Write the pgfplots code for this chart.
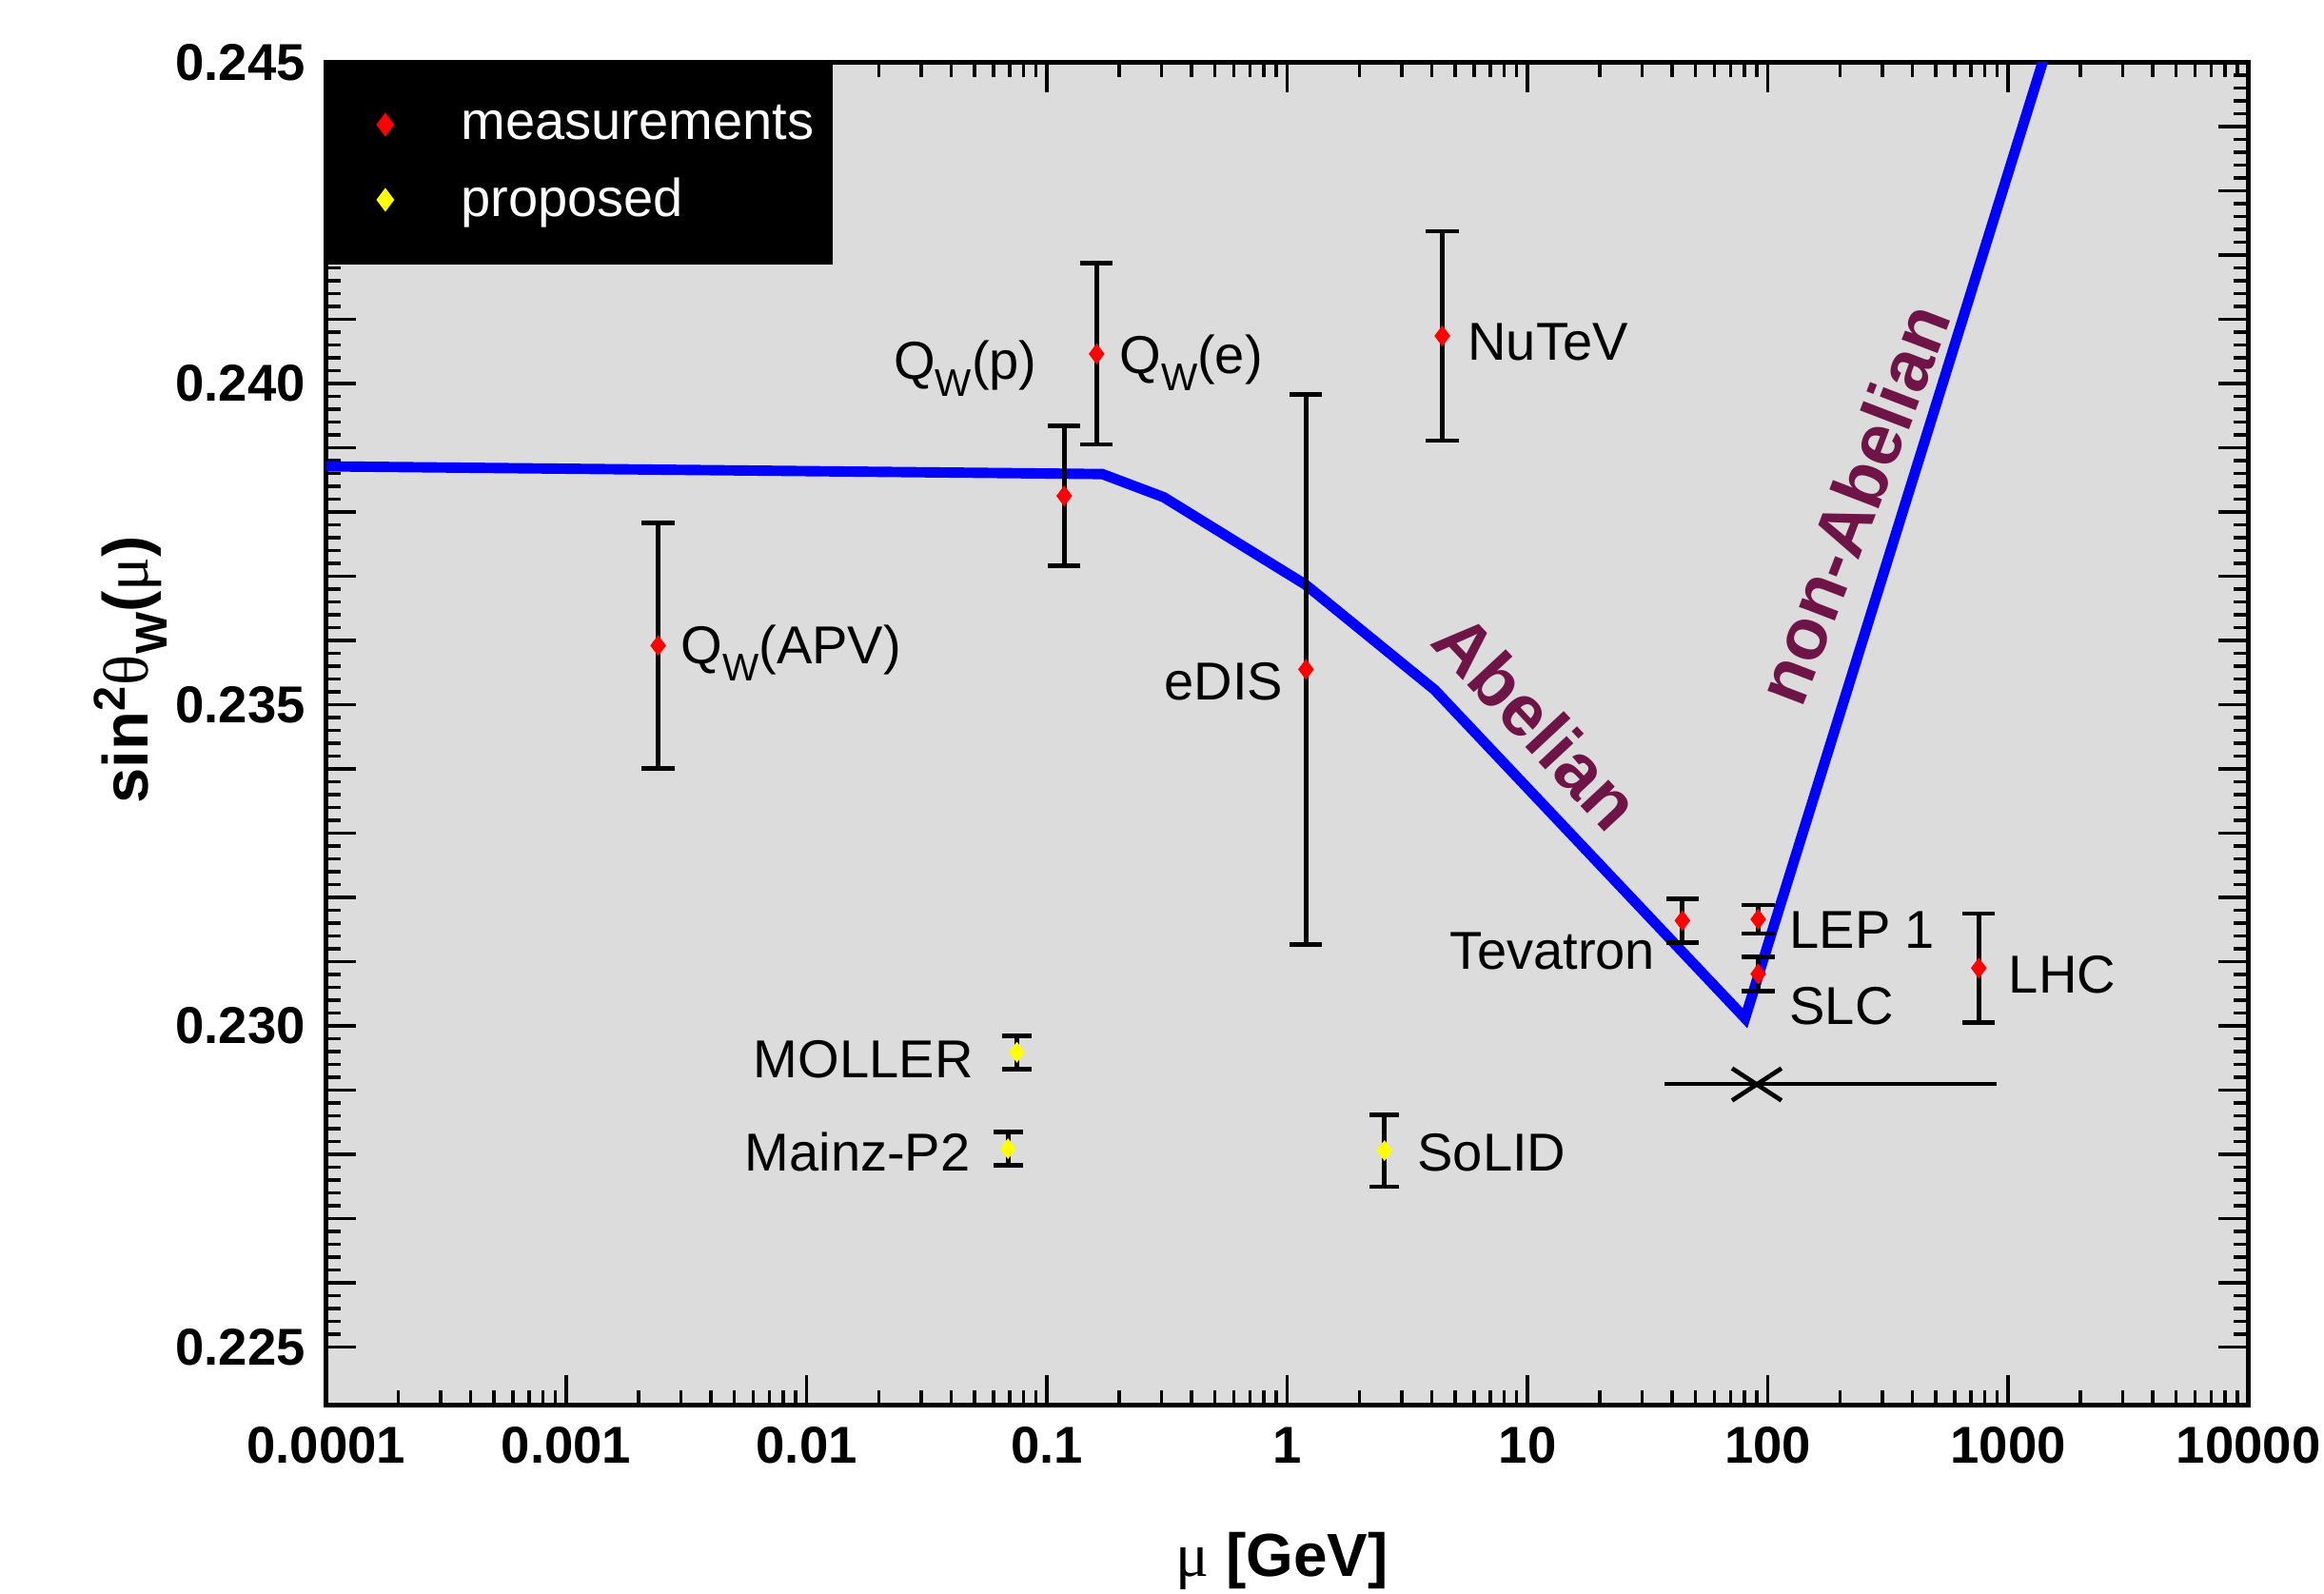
\documentclass[border=0pt]{standalone}
\usepackage{fontspec}
\setmainfont{Liberation Sans}
\newfontfamily\greekfont{Liberation Serif}
\usepackage{pgfplots}
\usepackage{pgfplotstable}
\pgfplotsset{compat=1.18}
\definecolor{bggray}{RGB}{220,220,220}
\definecolor{labpurple}{RGB}{110,20,70}
\definecolor{myblue}{RGB}{0,0,255}
\definecolor{myyellow}{RGB}{255,255,0}
\newcommand{\lab}{\fontsize{18}{20}\selectfont}
\newcommand{\W}{\raisebox{-0.32em}{\fontsize{13}{13}\selectfont W}}

\pgfplotstableread{
x y e
0.00241 0.23592 0.00191
0.118 0.23825 0.00109
0.161 0.24046 0.00141
1.197 0.23555 0.00428
4.42 0.24074 0.00163
44.1 0.23164 0.00034
91.2 0.23166 0.00022
91.2 0.23081 0.00027
755 0.23090 0.00085
}\meas

\pgfplotstableread{
x y e
0.075 0.22959 0.00026
0.0689 0.22809 0.00026
2.54 0.22806 0.00056
}\prop

\pgfplotstableread{
x y
0.0001 0.23871
0.17 0.23859
0.306 0.23823
1.19 0.23687
4.11 0.23523
80.4 0.23012
1532 0.2455
}\curve

\begin{document}
\begin{tikzpicture}
\useasboundingbox (-110pt,-63.5pt) rectangle (674pt,474pt);
\begin{axis}[
  at={(0,0)}, anchor=south west,
  scale only axis, width=648.5pt, height=453pt,
  xmode=log, xmin=1e-4, xmax=1e4,
  ymin=0.2241, ymax=0.245,
  axis background/.style={fill=bggray},
  axis line style={line width=1.6pt, black},
  tick align=inside,
  major tick length=10pt, minor tick length=5pt,
  every tick/.style={black, line width=1.1pt},
  xtick={1e-4,1e-3,1e-2,1e-1,1,10,100,1000,10000},
  xticklabels={0.0001,0.001,0.01,0.1,1,10,100,1000,10000},
  minor xtick={2e-4,3e-4,4e-4,5e-4,6e-4,7e-4,8e-4,9e-4,
    2e-3,3e-3,4e-3,5e-3,6e-3,7e-3,8e-3,9e-3,
    2e-2,3e-2,4e-2,5e-2,6e-2,7e-2,8e-2,9e-2,
    0.2,0.3,0.4,0.5,0.6,0.7,0.8,0.9,
    2,3,4,5,6,7,8,9,
    20,30,40,50,60,70,80,90,
    200,300,400,500,600,700,800,900,
    2000,3000,4000,5000,6000,7000,8000,9000},
  ytick={0.225,0.226,0.227,0.228,0.229,0.230,0.231,0.232,0.233,0.234,0.235,0.236,0.237,0.238,0.239,0.240,0.241,0.242,0.243,0.244,0.245},
  yticklabels={0.225,,,,,0.230,,,,,0.235,,,,,0.240,,,,,0.245},
  minor y tick num=4,
  xticklabel style={font=\fontsize{17.5}{20}\bfseries\selectfont, yshift=-4pt},
  yticklabel style={font=\fontsize{17.5}{20}\bfseries\selectfont, xshift=-3.5pt},
  xlabel={{\greekfont\mdseries\fontsize{21}{24}\selectfont μ} [GeV]},
  every axis x label/.style={at={(rel axis cs:0.4973,-0.1159)}, anchor=center, font=\fontsize{20.5}{24}\bfseries\selectfont},
  ylabel={sin\textsuperscript{2}{\greekfont\mdseries θ}\raisebox{-0.3em}{\fontsize{15}{15}\selectfont W}({\greekfont\mdseries μ})},
  every axis y label/.style={at={(rel axis cs:-0.1018,0.5475)}, rotate=90, anchor=center, font=\fontsize{21.5}{24}\bfseries\selectfont},
  legend style={at={(rel axis cs:0,1)}, anchor=north west, fill=black, draw=black, text=white, font=\lab,
    inner xsep=4pt, inner ysep=12pt, row sep=7.5pt, line width=1pt},
  legend image code/.code={\path (-15pt,0pt) (23pt,0pt); \draw[#1] plot coordinates {(0pt,0pt)};},
  legend cell align=left,
  legend columns=1,
]
\addlegendimage{only marks, mark=diamond*, mark size=3.2pt, color=red}
\addlegendentry{measurements}
\addlegendimage{only marks, mark=diamond*, mark size=3.2pt, color=myyellow}
\addlegendentry{proposed}

% theory curve
\addplot[myblue, line width=3.5pt, forget plot] table[x=x,y=y] {\curve};

% Z-pole arrow line with X
\addplot[black, line width=1.5pt, forget plot] coordinates {(37.2,0.2291) (897,0.2291)};
\addplot[black, line width=1.5pt, forget plot] coordinates {(71,0.22934) (114,0.22884)};
\addplot[black, line width=1.5pt, forget plot] coordinates {(71,0.22884) (114,0.22934)};

% measurements
\addplot[only marks, mark=diamond*, mark size=3.2pt, red, forget plot,
  error bars/.cd, y dir=both, y explicit,
  error bar style={black, line width=1.5pt},
  error mark options={black, rotate=90, mark size=5.5pt, line width=1.5pt}]
  table[x=x, y=y, y error=e] {\meas};

% proposed
\addplot[only marks, mark=diamond*, mark size=3.2pt, myyellow, forget plot,
  error bars/.cd, y dir=both, y explicit,
  error bar style={black, line width=1.5pt},
  error mark options={black, rotate=90, mark size=5pt, line width=1.5pt}]
  table[x=x, y=y, y error=e] {\prop};

% point labels
\begin{scope}[every node/.style={inner sep=0pt, font=\lab}]
\node[anchor=base west] at (rel axis cs:0.1843,0.5519) {Q\W(APV)};
\node[anchor=base east] at (rel axis cs:0.3701,0.7638) {Q\W(p)};
\node[anchor=base west] at (rel axis cs:0.4125,0.7682) {Q\W(e)};
\node[anchor=base west] at (rel axis cs:0.5937,0.7781) {NuTeV};
\node[anchor=base east] at (rel axis cs:0.4981,0.5254) {eDIS};
\node[anchor=base east] at (rel axis cs:0.6916,0.3245) {Tevatron};
\node[anchor=base west] at (rel axis cs:0.7610,0.3400) {LEP 1};
\node[anchor=base west] at (rel axis cs:0.7610,0.2837) {SLC};
\node[anchor=base west] at (rel axis cs:0.8751,0.3068) {LHC};
\node[anchor=base east] at (rel axis cs:0.3369,0.2439) {MOLLER};
\node[anchor=base east] at (rel axis cs:0.3354,0.1744) {Mainz-P2};
\node[anchor=base west] at (rel axis cs:0.5675,0.1744) {SoLID};
\end{scope}

\node[rotate=-47, text=labpurple, font=\fontsize{24.5}{28}\bfseries\selectfont] at (rel axis cs:0.6299,0.5088) {Abelian};
\node[rotate=69, text=labpurple, font=\fontsize{24.5}{28}\bfseries\selectfont] at (rel axis cs:0.7941,0.6711) {non-Abelian};
\end{axis}
\end{tikzpicture}
\end{document}
